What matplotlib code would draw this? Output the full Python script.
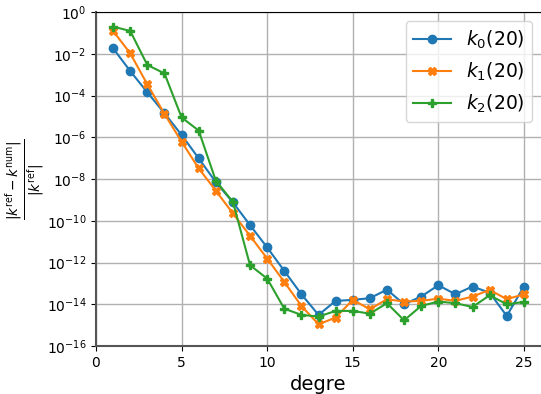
import numpy as np
import matplotlib
matplotlib.use("Agg")
import matplotlib.pyplot as plt

degre = list(range(1, 26))

# log10 of the relative error
log_k0 = [-1.74, -2.83, -3.85, -4.85, -5.89, -7.01, -8.15, -9.12, -10.21, -11.28,
          -12.40, -13.52, -14.51, -13.84, -13.79, -13.71, -13.30, -14.00, -13.63, -13.09,
          -13.52, -13.15, -13.45, -14.56, -13.15]
log_k1 = [-0.91, -1.98, -3.47, -4.88, -6.21, -7.49, -8.56, -9.65, -10.72, -11.81,
          -12.93, -14.08, -14.96, -14.64, -13.79, -14.24, -13.76, -13.87, -13.84, -13.73,
          -13.84, -13.63, -13.31, -13.76, -13.52]
log_k2 = [-0.70, -0.91, -2.54, -2.94, -5.05, -5.68, -8.08, -9.10, -12.13, -12.77,
          -14.21, -14.51, -14.59, -14.32, -14.32, -14.45, -13.95, -14.77, -14.08, -13.87,
          -13.95, -14.13, -13.57, -14.00, -13.89]

fig = plt.figure(figsize=(5.41, 3.94), dpi=100)
ax = fig.add_axes([96 / 541, 1 - 346 / 394, 1 - 96 / 541, (346 - 12) / 394])

ax.plot(degre, 10 ** np.array(log_k0), marker="o", color="#1f77b4", label="$k_0(20)$")
ax.plot(degre, 10 ** np.array(log_k1), marker="X", color="#ff7f0e", label="$k_1(20)$")
ax.plot(degre, 10 ** np.array(log_k2), marker="P", color="#2ca02c", label="$k_2(20)$")

ax.set_yscale("log")
ax.set_ylim(1e-16, 1)
ax.set_xlim(0, 26)
ax.set_yticks([10.0 ** e for e in range(-16, 1, 2)])
ax.minorticks_off()
ax.set_xticks([0, 5, 10, 15, 20, 25])
ax.grid(True, color="#b0b0b0", linewidth=1)
for s in ["left", "bottom"]:
    ax.spines[s].set_color("#555555")
    ax.spines[s].set_linewidth(1.5)
ax.spines["right"].set_visible(False)
ax.tick_params(labelsize=10)

ax.set_xlabel("degre", fontsize=14)
ax.set_ylabel(r"$\frac{|k^{\rm ref} - k^{\rm num}|}{|k^{\rm ref}|}$", fontsize=14, labelpad=0)
ax.legend(loc="upper right", fontsize=13.5, handlelength=2.0)

fig.savefig("out.png", dpi=100)
